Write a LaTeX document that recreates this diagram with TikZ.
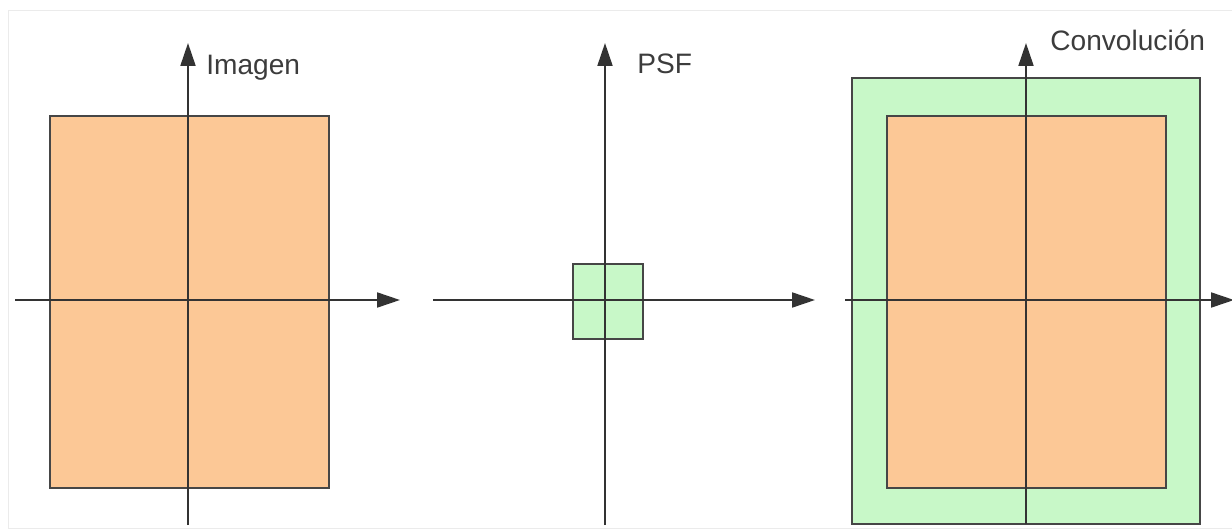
\documentclass[tikz,border=0pt]{standalone}
\usepackage{fontspec}
\setmainfont{Liberation Sans}
\usetikzlibrary{arrows.meta}
\definecolor{naranja}{RGB}{252,200,150}
\definecolor{verde}{RGB}{200,248,200}
\definecolor{borde}{RGB}{70,70,70}
\definecolor{texto}{RGB}{60,60,60}
\tikzset{
	eje/.style={line width=1.1pt,-{Triangle[length=13pt,width=8.5pt]},black!80},
	caja/.style={draw=borde,line width=1.1pt},
	etiqueta/.style={font=\fontsize{16}{19}\selectfont,text=texto,inner sep=0pt,anchor=base west}
}
\begin{document}
\begin{tikzpicture}[x=0.02cm,y=-0.02cm]
		\useasboundingbox (0,0) rectangle (1232,531);
		\draw[black!8] (8,10) rectangle (1240,528);
		% imagen
		\filldraw[caja,fill=naranja] (50,116) rectangle (329,488);
		\draw[eje] (15,300) -- (400,300);
		\draw[eje] (188,525) -- (188,43);
		\node[etiqueta] (imagen) at (206,74) {Imagen};
		% psf
		\filldraw[caja,fill=verde] (573,264) rectangle (643,339);
		\draw[eje] (433,300) -- (815,300);
		\draw[eje] (605,525) -- (605,43);
		\node[etiqueta] (psf) at (637,73) {PSF};
		% convolucion
		\filldraw[caja,fill=verde] (852,78) rectangle (1200,524);
		\filldraw[caja,fill=naranja] (887,116) rectangle (1166,488);
		\draw[eje] (845,300) -- (1234,300);
		\draw[eje] (1026,524) -- (1026,43);
		\node[etiqueta] (conv) at (1050,50) {Convolución};
\end{tikzpicture}
\end{document}
